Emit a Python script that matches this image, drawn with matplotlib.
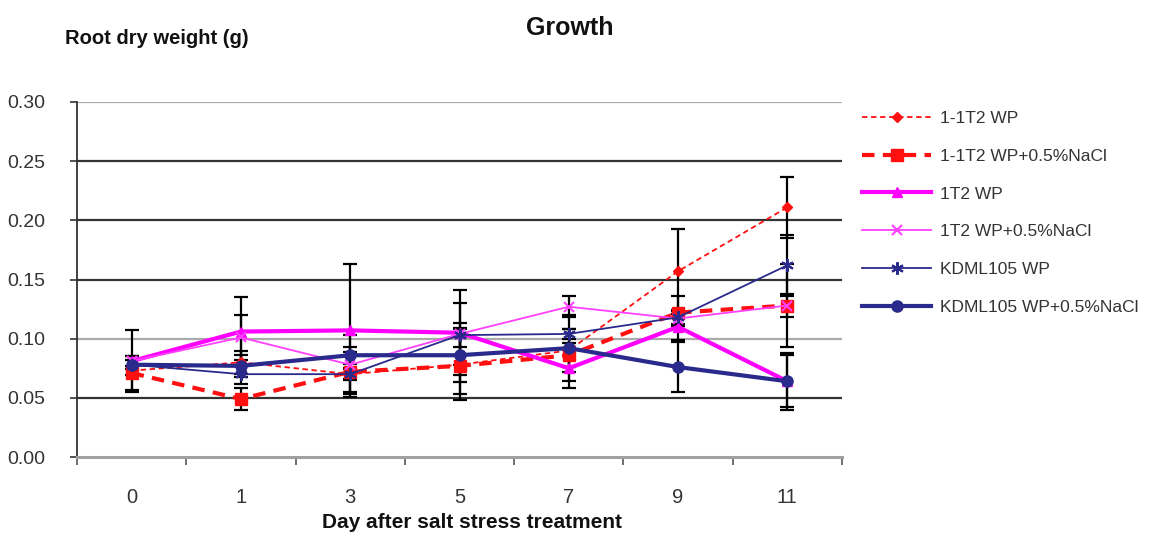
import numpy as np
import matplotlib
matplotlib.use("Agg")
import matplotlib.pyplot as plt

plt.rcParams['font.family'] = ['Liberation Sans', 'DejaVu Sans']

days = ['0', '1', '3', '5', '7', '9', '11']

# root dry weight (g) and error (+/-) per series
wp11 = [0.073, 0.080, 0.070, 0.078, 0.090, 0.157, 0.211]
wp11_err = [0.004, 0.010, 0.005, 0.030, 0.018, 0.036, 0.026]
wp11_nacl = [0.071, 0.049, 0.072, 0.077, 0.086, 0.122, 0.128]
wp11_nacl_err = [0.014, 0.009, 0.017, 0.024, 0.010, 0.014, 0.010]
wp1 = [0.081, 0.106, 0.107, 0.105, 0.075, 0.110, 0.064]
wp1_err = [0.026, 0.029, 0.056, 0.036, 0.017, 0.011, 0.024]
wp1_nacl = [0.081, 0.101, 0.078, 0.104, 0.127, 0.117, 0.128]
wp1_nacl_err = [0.004, 0.019, 0.025, 0.026, 0.009, 0.006, 0.035]
kd = [0.078, 0.070, 0.070, 0.103, 0.104, 0.118, 0.162]
kd_err = [0.004, 0.008, 0.004, 0.010, 0.004, 0.006, 0.026]
kd_nacl = [0.078, 0.077, 0.086, 0.086, 0.092, 0.076, 0.064]
kd_nacl_err = [0.004, 0.009, 0.007, 0.023, 0.028, 0.021, 0.022]

labels = ['1-1T2 WP', '1-1T2 WP+0.5%NaCl', '1T2 WP', '1T2 WP+0.5%NaCl',
          'KDML105 WP', 'KDML105 WP+0.5%NaCl']

fig = plt.figure(figsize=(11.49, 5.36), dpi=100)
ax = fig.add_axes([77/1149, 1-457/536, (842-77)/1149, (457-102)/536])

x = np.arange(len(days))

styles = [
    (wp11, wp11_err, dict(color='#ff1010', ls=(0, (3, 2)), lw=1.3, marker='D', ms=5)),
    (wp11_nacl, wp11_nacl_err, dict(color='#ff1010', ls=(0, (3, 2)), lw=3, marker='s', ms=9)),
    (wp1, wp1_err, dict(color='#ff00ff', ls='-', lw=3, marker='^', ms=7)),
    (wp1_nacl, wp1_nacl_err, dict(color='#ff40ff', ls='-', lw=1.3, marker='x', ms=7, mew=1.5)),
    (kd, kd_err, dict(color='#2a2a8c', ls='-', lw=1.3, marker=(6, 2, 0), ms=9, mew=1.5)),
    (kd_nacl, kd_nacl_err, dict(color='#2a2a8c', ls='-', lw=3, marker='o', ms=8)),
]

for (vals, errs, st), lab in zip(styles, labels):
    ax.errorbar(x, vals, yerr=errs, fmt='none', ecolor='black', elinewidth=1.6,
                capsize=5, capthick=1.6, zorder=2)
    ax.plot(x, vals, label=lab, zorder=3, **st)

ax.set_xlim(-0.5, 6.5)
ax.set_ylim(0, 0.30)
ax.set_yticks(np.arange(0, 0.31, 0.05))
ax.set_yticklabels(['%.2f' % v for v in np.arange(0, 0.31, 0.05)],
                   fontsize=14, color='#333333')
for v, c in zip([0.05, 0.10, 0.15, 0.20, 0.25, 0.30],
                ['#333333', '#aaaaaa', '#333333', '#333333', '#333333', '#aaaaaa']):
    ax.axhline(v, color=c, lw=1.6, zorder=0)

ax.set_xticks(x)
ax.set_xticklabels(days, fontsize=14.5, color='#333333')
ax.set_xticks(np.arange(-0.5, 7, 1), minor=True)
ax.tick_params(axis='x', which='major', length=0, pad=22)
ax.tick_params(axis='x', which='minor', length=6, width=1.2, color='#555555')
ax.tick_params(axis='y', length=5, width=1.2, color='#333333', pad=18)

for s in ['top', 'right']:
    ax.spines[s].set_visible(False)
ax.spines['left'].set_color('#333333')
ax.spines['left'].set_linewidth(1.3)
ax.spines['bottom'].set_color('#a0a0a0')
ax.spines['bottom'].set_linewidth(2.2)

fig.text(570/1149, 1-28/536, 'Growth', fontsize=18, fontweight='bold',
         ha='center', va='center', color='#111111')
fig.text(65/1149, 1-38/536, 'Root dry weight (g)', fontsize=14.5, fontweight='bold',
         ha='left', va='center', color='#111111')
fig.text(472/1149, 1-523/536, 'Day after salt stress treatment', fontsize=15,
         fontweight='bold', ha='center', va='center', color='#111111')

leg = ax.legend(loc='upper left', bbox_to_anchor=(855/1149, 1-104/536),
                bbox_transform=fig.transFigure, frameon=False, fontsize=12.5,
                handlelength=4.0, handletextpad=0.5, labelspacing=1.3,
                numpoints=1, borderaxespad=0)
for t in leg.get_texts():
    t.set_color('#333333')

fig.savefig('out.png', dpi=100)
